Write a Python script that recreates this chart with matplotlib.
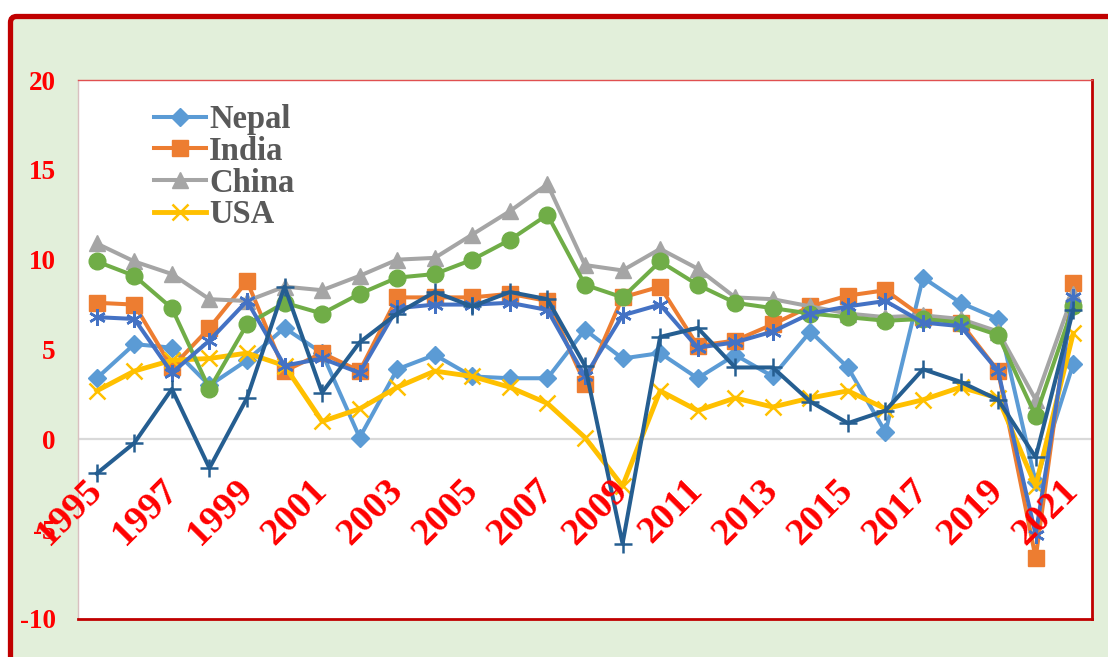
import numpy as np
import matplotlib.pyplot as plt
from matplotlib.patches import FancyBboxPatch

years = list(range(1995, 2022))
nepal = [3.4, 5.3, 5.1, 3.0, 4.4, 6.2, 4.8, 0.1, 3.9, 4.7, 3.5, 3.4, 3.4, 6.1, 4.5, 4.8, 3.4, 4.7, 3.5, 6.0, 4.0, 0.4, 9.0, 7.6, 6.7, -2.4, 4.2]
india = [7.6, 7.5, 4.0, 6.2, 8.8, 3.8, 4.8, 3.8, 7.9, 7.9, 7.9, 8.1, 7.7, 3.1, 7.9, 8.5, 5.2, 5.5, 6.4, 7.4, 8.0, 8.3, 6.8, 6.5, 3.8, -6.6, 8.7]
china = [10.9, 9.9, 9.2, 7.8, 7.7, 8.5, 8.3, 9.1, 10.0, 10.1, 11.4, 12.7, 14.2, 9.7, 9.4, 10.6, 9.5, 7.9, 7.8, 7.4, 7.0, 6.8, 6.9, 6.7, 6.0, 2.2, 8.1]
usa = [2.7, 3.8, 4.4, 4.5, 4.8, 4.1, 1.0, 1.7, 2.9, 3.8, 3.5, 2.9, 2.0, 0.1, -2.6, 2.7, 1.6, 2.3, 1.8, 2.3, 2.7, 1.7, 2.2, 2.9, 2.3, -2.6, 5.9]
# three more series drawn without legend entries
series5 = [9.9, 9.1, 7.3, 2.8, 6.4, 7.6, 7.0, 8.1, 9.0, 9.2, 10.0, 11.1, 12.5, 8.6, 7.9, 9.9, 8.6, 7.6, 7.3, 7.0, 6.8, 6.6, 6.7, 6.5, 5.8, 1.3, 7.4]
series6 = [6.8, 6.7, 3.7, 5.5, 7.7, 4.1, 4.5, 3.7, 7.3, 7.5, 7.5, 7.6, 7.2, 3.5, 6.9, 7.5, 5.1, 5.4, 6.0, 7.0, 7.4, 7.7, 6.5, 6.3, 3.8, -5.3, 7.9]
series7 = [-1.9, -0.2, 2.8, -1.6, 2.3, 8.5, 2.6, 5.4, 7.0, 8.2, 7.4, 8.2, 7.8, 4.1, -5.8, 5.7, 6.2, 4.0, 4.0, 2.1, 0.9, 1.6, 3.9, 3.2, 2.2, -1.0, 7.2]
yticks = [-10, -5, 0, 5, 10, 15, 20]

serif = 'Liberation Serif'
W, H = 1108, 657
fig = plt.figure(figsize=(W / 100, H / 100), dpi=100, facecolor='white')

# green panel with dark red border (runs off the right and bottom edges)
panel = FancyBboxPatch((10.5, -40), 1200, H - 16.5 + 40,
                       boxstyle='round,pad=0,rounding_size=6',
                       transform=None, facecolor='#E2EFDA',
                       edgecolor='#C00000', lw=3.8, zorder=-5)
fig.add_artist(panel)

ax = fig.add_axes([78 / W, 1 - 619 / H, 1014 / W, 539 / H])
ax.set_facecolor('white')

x = np.arange(len(years))
lw = 2.9
ax.axhline(0, color='#D9D9D9', lw=1.6, zorder=1)
l1, = ax.plot(x, nepal, color='#5B9BD5', lw=lw, marker='D', ms=9, label='Nepal')
l2, = ax.plot(x, india, color='#ED7D31', lw=lw, marker='s', ms=11, label='India')
l3, = ax.plot(x, china, color='#A5A5A5', lw=lw, marker='^', ms=12, label='China')
l4, = ax.plot(x, usa, color='#FFC000', lw=lw + 0.6, marker='x', ms=11, mew=1.8, label='USA')
ax.plot(x, series5, color='#70AD47', lw=lw, marker='o', ms=12)
ax.plot(x, series6, color='#4472C4', lw=lw, marker=(6, 2, 0), ms=12, mew=1.8)
ax.plot(x, series7, color='#255E91', lw=lw, marker='+', ms=13, mew=1.8)

ax.set_xlim(-0.5, len(years) - 0.5)
ax.set_ylim(-10, 20)
ax.set_yticks(yticks)
ax.set_yticklabels([str(v) for v in yticks], color='#FF0000', fontsize=19.5,
                   fontweight='bold', family=serif)
ax.tick_params(axis='y', length=0, pad=16)
ax.set_xticks([])

for i, yr in enumerate(years):
    if yr % 2 == 1:
        ax.annotate(str(yr), xy=(i, 0), xytext=(0, -33), textcoords='offset points',
                    ha='right', va='center', rotation=45, rotation_mode='anchor',
                    color='#FF0000', fontsize=27.5, fontweight='bold', family=serif,
                    annotation_clip=False)

ax.spines['top'].set_color('#E05050')
ax.spines['top'].set_linewidth(1)
ax.spines['left'].set_color('#D9C0C0')
ax.spines['left'].set_linewidth(1)
for s in ['right', 'bottom']:
    ax.spines[s].set_color('#C00000')
    ax.spines[s].set_linewidth(2)

leg = ax.legend(handles=[l1, l2, l3, l4], loc='upper left', bbox_to_anchor=(0.075, 0.955),
                frameon=False, borderaxespad=0, borderpad=0, labelspacing=0.02,
                handlelength=1.6, handletextpad=0.08,
                prop={'family': serif, 'weight': 'bold', 'size': 23.5})
for t in leg.get_texts():
    t.set_color('#595959')

fig.savefig('out.png', dpi=100, facecolor=fig.get_facecolor())
